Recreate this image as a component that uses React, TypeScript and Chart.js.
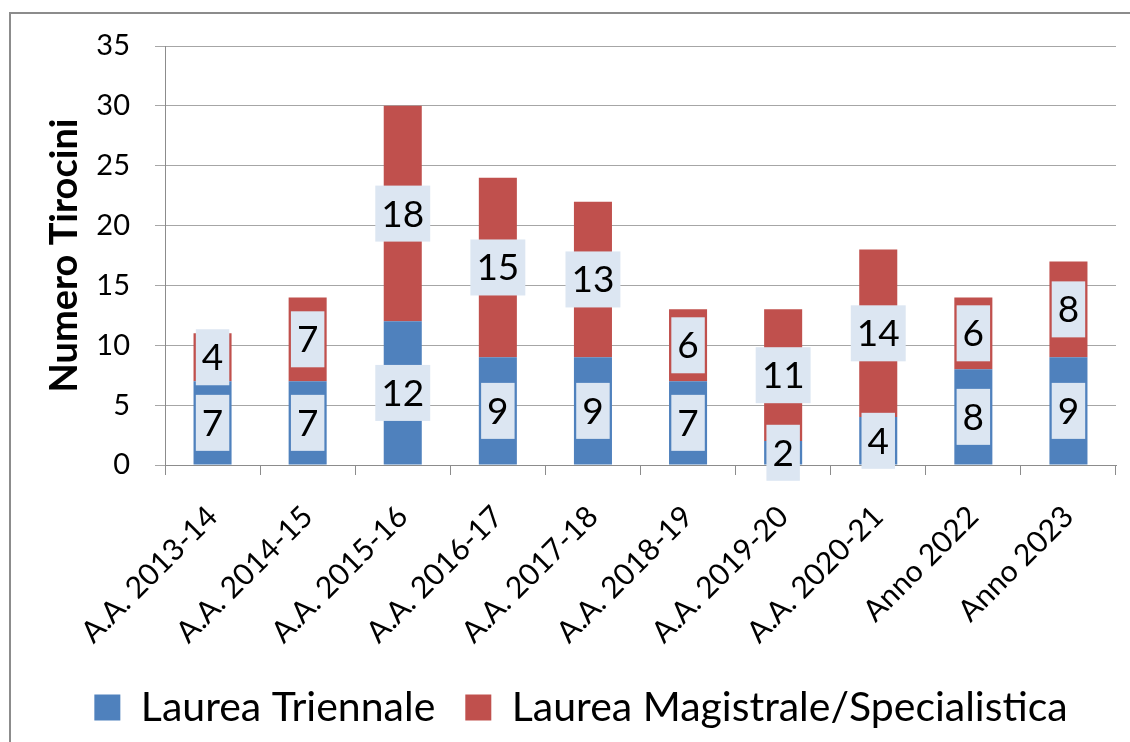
import React, { useEffect, useRef } from "react";
import { Chart, registerables } from "chart.js";

Chart.register(...registerables);

const categories = [
  "A.A. 2013-14",
  "A.A. 2014-15",
  "A.A. 2015-16",
  "A.A. 2016-17",
  "A.A. 2017-18",
  "A.A. 2018-19",
  "A.A. 2019-20",
  "A.A. 2020-21",
  "Anno 2022",
  "Anno 2023",
];
const triennale = [7, 7, 12, 9, 9, 7, 2, 4, 8, 9];
const magistrale = [4, 7, 18, 15, 13, 6, 11, 14, 6, 8];
const seriesNames = ["Laurea Triennale", "Laurea Magistrale/Specialistica"];
const yMin = 0;
const yMax = 35;
const yStep = 5;
const yTitle = "Numero Tirocini";

const FONT = "Lato";

const framePlugin = {
  id: "frame",
  beforeDraw(chart: any) {
    const ctx = chart.ctx;
    ctx.save();
    ctx.fillStyle = "#ffffff";
    ctx.fillRect(0, 0, chart.width, chart.height);
    ctx.strokeStyle = "#8c8c8c";
    ctx.lineWidth = 2;
    ctx.beginPath();
    ctx.moveTo(10, chart.height + 5);
    ctx.lineTo(10, 13);
    ctx.lineTo(chart.width + 5, 13);
    ctx.stroke();
    ctx.restore();
  },
};

const valueLabelPlugin = {
  id: "valueLabels",
  afterDatasetsDraw(chart: any) {
    const ctx = chart.ctx;
    ctx.save();
    ctx.font = `37px ${FONT}`;
    ctx.textAlign = "center";
    ctx.textBaseline = "middle";
    chart.data.datasets.forEach((ds: any, di: number) => {
      const meta = chart.getDatasetMeta(di);
      meta.data.forEach((bar: any, i: number) => {
        const v = ds.data[i];
        const { x, y, base } = bar.getProps(["x", "y", "base"], true);
        const cy = (y + base) / 2;
        const txt = String(v);
        const w = ctx.measureText(txt).width + 12;
        const h = 56;
        ctx.fillStyle = "#dce6f2";
        ctx.fillRect(x - w / 2, cy - h / 2, w, h);
        ctx.fillStyle = "#000000";
        ctx.fillText(txt, x, cy + 1);
      });
    });
    ctx.restore();
  },
};

export default function App() {
  const ref = useRef<HTMLCanvasElement | null>(null);

  useEffect(() => {
    if (!ref.current) return;
    Chart.defaults.font.family = FONT;
    Chart.defaults.color = "#000000";
    const chart = new Chart(ref.current, {
      type: "bar",
      data: {
        labels: categories,
        datasets: [
          {
            label: seriesNames[0],
            data: triennale,
            backgroundColor: "#4f81bd",
            borderWidth: 0,
            barPercentage: 0.4,
            categoryPercentage: 1,
          },
          {
            label: seriesNames[1],
            data: magistrale,
            backgroundColor: "#c0504d",
            borderWidth: 0,
            barPercentage: 0.4,
            categoryPercentage: 1,
          },
        ],
      },
      options: {
        responsive: false,
        animation: false,
        layout: { padding: { top: 46, right: 14, bottom: 4, left: 46 } },
        plugins: {
          legend: {
            position: "bottom",
            labels: {
              font: { size: 41, family: FONT },
              color: "#000000",
              boxWidth: 26,
              boxHeight: 26,
              padding: 30,
            },
          },
          tooltip: { enabled: false },
        },
        scales: {
          x: {
            stacked: true,
            offset: true,
            grid: {
              display: true,
              drawOnChartArea: false,
              drawTicks: true,
              tickLength: 10,
              color: "#8c8c8c",
              offset: true,
            },
            border: { display: true, color: "#8c8c8c", width: 1 },
            ticks: {
              autoSkip: false,
              maxRotation: 45,
              minRotation: 45,
              padding: 24,
              font: { size: 30, family: FONT },
              color: "#000000",
            },
            afterFit(scale: any) {
              scale.height = 192;
            },
          },
          y: {
            stacked: true,
            min: yMin,
            max: yMax,
            ticks: {
              stepSize: yStep,
              padding: 25,
              font: { size: 29, family: FONT },
              color: "#000000",
            },
            grid: {
              color: "#a6a6a6",
              lineWidth: 1,
              tickLength: 10,
              drawTicks: true,
            },
            border: { display: true, color: "#8c8c8c", width: 1 },
            title: {
              display: true,
              text: yTitle,
              font: { size: 38, weight: "bold", family: FONT, lineHeight: 1 },
              padding: 0,
              color: "#000000",
            },
            afterFit(scale: any) {
              scale.width = 119;
            },
          },
        },
      },
      plugins: [framePlugin, valueLabelPlugin],
    } as any);
    return () => chart.destroy();
  }, []);

  return (
    <div style={{ position: "absolute", left: 0, top: 0, width: 1130, height: 742 }}>
      <canvas ref={ref} width={1130} height={742} style={{ display: "block" }} />
    </div>
  );
}
